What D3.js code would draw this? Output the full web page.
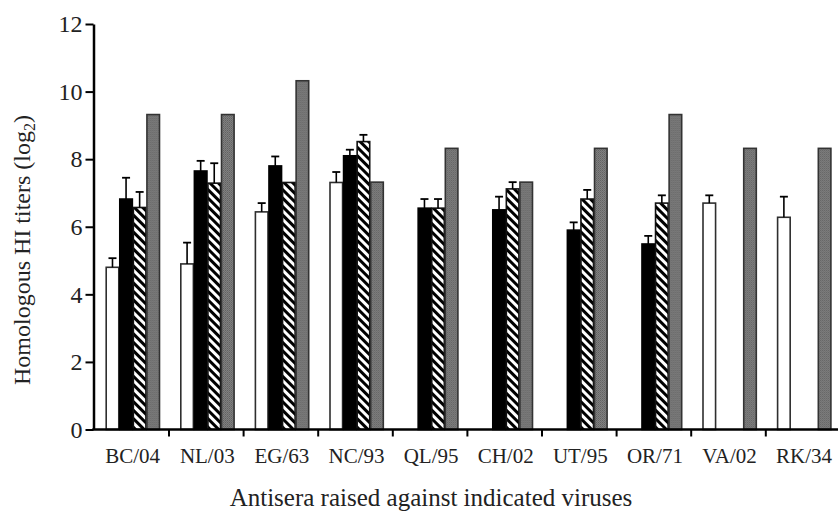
<!DOCTYPE html>
<html>
<head>
<meta charset="utf-8">
<script src="https://cdn.jsdelivr.net/npm/d3@7"></script>
<style>
  body { margin: 0; background: #fff; }
  svg { display: block; font-family: "Liberation Serif", "DejaVu Serif", serif; }
</style>
</head>
<body>
<svg id="chart" width="838" height="512"></svg>
<script>
// chart values
const categories = ['BC/04', 'NL/03', 'EG/63', 'NC/93', 'QL/95', 'CH/02', 'UT/95', 'OR/71', 'VA/02', 'RK/34'];
const seriesKeys = ['open', 'solid', 'hatched', 'gray'];

const openVals  = [4.8, 4.9, 6.44, 7.31, null, null, null, null, 6.7, 6.28];
const openErr   = [0.27, 0.63, 0.26, 0.31, null, null, null, null, 0.23, 0.61];
const solidVals = [6.82, 7.65, 7.8, 8.1, 6.55, 6.5, 5.9, 5.49, null, null];
const solidErr  = [0.63, 0.3, 0.28, 0.18, 0.27, 0.39, 0.23, 0.24, null, null];
const hatchVals = [6.57, 7.29, 7.31, 8.52, 6.55, 7.12, 6.82, 6.7, null, null];
const hatchErr  = [0.46, 0.59, 0, 0.2, 0.27, 0.2, 0.27, 0.23, null, null];
const grayVals  = [9.32, 9.32, 10.32, 7.32, 8.32, 7.32, 8.32, 9.32, 8.32, 8.32];
const grayErr   = [null, null, null, null, null, null, null, null, null, null];

const yTicks = [0, 2, 4, 6, 8, 10, 12];

const svg = d3.select('#chart');

// patterns
const defs = svg.append('defs');
const hatch = defs.append('pattern')
    .attr('id', 'hatch')
    .attr('patternUnits', 'userSpaceOnUse')
    .attr('width', 6)
    .attr('height', 6)
    .attr('patternTransform', 'rotate(-45)');
hatch.append('rect').attr('width', 6).attr('height', 6).attr('fill', '#fff');
hatch.append('rect').attr('width', 3).attr('height', 6).attr('fill', '#000');

const dots = defs.append('pattern')
    .attr('id', 'dots')
    .attr('patternUnits', 'userSpaceOnUse')
    .attr('width', 2)
    .attr('height', 2);
dots.append('rect').attr('width', 2).attr('height', 2).attr('fill', '#808080');
dots.append('rect').attr('width', 1).attr('height', 1).attr('fill', '#626262');
dots.append('rect').attr('x', 1).attr('y', 1).attr('width', 1).attr('height', 1).attr('fill', '#6e6e6e');

const styles = {
    open:    { fill: '#fff', stroke: '#2e2e2e' },
    solid:   { fill: '#000', stroke: '#000' },
    hatched: { fill: 'url(#hatch)', stroke: '#111' },
    gray:    { fill: 'url(#dots)', stroke: '#333' }
};

const rows = categories.map((c, i) => ({
    cat: c,
    bars: [
        { key: 'open', v: openVals[i], e: openErr[i] },
        { key: 'solid', v: solidVals[i], e: solidErr[i] },
        { key: 'hatched', v: hatchVals[i], e: hatchErr[i] },
        { key: 'gray', v: grayVals[i], e: grayErr[i] }
    ].filter(b => b.v !== null)
}));

const x0 = d3.scaleBand()
    .domain(categories)
    .range([94.4, 840.4])
    .padding(0);

const x1 = d3.scaleBand()
    .domain(seriesKeys)
    .range([11.3, 65.6])
    .padding(0);

const y = d3.scaleLinear()
    .domain([0, 12])
    .range([429.5, 24]);

// bars
const groups = svg.append('g')
    .selectAll('g')
    .data(rows)
    .enter().append('g')
    .attr('transform', d => `translate(${x0(d.cat)},0)`);

groups.selectAll('rect')
    .data(d => d.bars)
    .enter().append('rect')
    .attr('x', d => x1(d.key) + 0.5)
    .attr('y', d => y(d.v))
    .attr('width', x1.bandwidth() - 1)
    .attr('height', d => y(0) - y(d.v))
    .attr('fill', d => styles[d.key].fill)
    .attr('stroke', d => styles[d.key].stroke)
    .attr('stroke-width', 1.6);

// error bars
const errs = groups.selectAll('g.err')
    .data(d => d.bars.filter(b => b.e))
    .enter().append('g')
    .attr('class', 'err');

errs.append('line')
    .attr('x1', d => x1(d.key) + x1.bandwidth() / 2)
    .attr('x2', d => x1(d.key) + x1.bandwidth() / 2)
    .attr('y1', d => y(d.v))
    .attr('y2', d => y(d.v + d.e))
    .attr('stroke', '#000')
    .attr('stroke-width', 1.6);

errs.append('line')
    .attr('x1', d => x1(d.key) + x1.bandwidth() / 2 - 4)
    .attr('x2', d => x1(d.key) + x1.bandwidth() / 2 + 4)
    .attr('y1', d => y(d.v + d.e))
    .attr('y2', d => y(d.v + d.e))
    .attr('stroke', '#000')
    .attr('stroke-width', 1.8);

// y axis
const yAxis = svg.append('g')
    .attr('transform', 'translate(93.5,0)')
    .call(d3.axisLeft(y).tickValues(yTicks).tickSize(8).tickPadding(3).tickSizeOuter(0));
yAxis.select('.domain').attr('stroke-width', 2.5);
yAxis.selectAll('.tick line').attr('stroke-width', 2);
yAxis.selectAll('text')
    .attr('font-family', '"Liberation Serif", serif')
    .attr('font-size', 24)
    .attr('fill', '#222');

// x axis with ticks between groups
const xAxis = svg.append('g')
    .attr('transform', `translate(0,${y(0)})`);
xAxis.append('line')
    .attr('x1', 92.3)
    .attr('x2', 838)
    .attr('stroke', '#000')
    .attr('stroke-width', 2.5);
xAxis.selectAll('line.tk')
    .data(categories.slice(1))
    .enter().append('line')
    .attr('class', 'tk')
    .attr('x1', d => x0(d))
    .attr('x2', d => x0(d))
    .attr('y1', 0)
    .attr('y2', 7)
    .attr('stroke', '#000')
    .attr('stroke-width', 2);
xAxis.selectAll('text')
    .data(categories)
    .enter().append('text')
    .attr('x', d => x0(d) + x0.bandwidth() / 2 + 1)
    .attr('y', 33)
    .attr('text-anchor', 'middle')
    .attr('font-size', 21)
    .attr('fill', '#222')
    .text(d => d);

// axis titles
svg.append('text')
    .attr('x', 431)
    .attr('y', 506)
    .attr('text-anchor', 'middle')
    .attr('font-size', 25)
    .attr('fill', '#222')
    .text('Antisera raised against indicated viruses');

const yTitle = svg.append('text')
    .attr('transform', 'translate(30,250) rotate(-90)')
    .attr('text-anchor', 'middle')
    .attr('font-size', 24)
    .attr('fill', '#222');
yTitle.append('tspan').text('Homologous HI titers (log');
yTitle.append('tspan').attr('font-size', 16).attr('dy', 5).text('2');
yTitle.append('tspan').attr('dy', -5).text(')');
</script>
</body>
</html>
